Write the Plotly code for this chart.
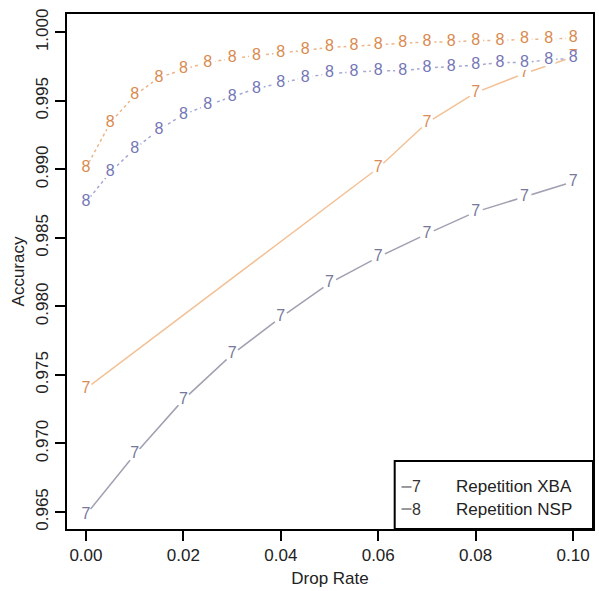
import plotly.graph_objects as go

# ---- data ----
drop_nsp = [0.000, 0.005, 0.010, 0.015, 0.020, 0.025, 0.030, 0.035, 0.040, 0.045, 0.050,
            0.055, 0.060, 0.065, 0.070, 0.075, 0.080, 0.085, 0.090, 0.095, 0.100]
nsp_orange = [0.9901, 0.9934, 0.9954, 0.9967, 0.9973, 0.9978, 0.9981, 0.9983, 0.9985, 0.9987,
              0.9989, 0.9990, 0.9991, 0.9992, 0.9993, 0.9993, 0.9994, 0.9994, 0.9995, 0.9995, 0.9996]
nsp_purple = [0.9876, 0.9898, 0.9915, 0.9929, 0.9940, 0.9947, 0.9953, 0.9959, 0.9963, 0.9967,
              0.9970, 0.9971, 0.9972, 0.9972, 0.9974, 0.9975, 0.9976, 0.9978, 0.9978, 0.9980, 0.9981]

drop_xba_orange = [0.00, 0.06, 0.07, 0.08, 0.09, 0.10]
xba_orange = [0.9740, 0.9901, 0.9934, 0.9956, 0.9970, 0.9982]

drop_xba_purple = [0.00, 0.01, 0.02, 0.03, 0.04, 0.05, 0.06, 0.07, 0.08, 0.09, 0.10]
xba_purple = [0.9648, 0.9692, 0.9732, 0.9765, 0.9792, 0.9817, 0.9836, 0.9853, 0.9869, 0.9880, 0.9891]

x_ticks = [0.00, 0.02, 0.04, 0.06, 0.08, 0.10]
x_ticklabels = ["0.00", "0.02", "0.04", "0.06", "0.08", "0.10"]
y_ticks = [0.965, 0.970, 0.975, 0.980, 0.985, 0.990, 0.995, 1.000]
y_ticklabels = ["0.965", "0.970", "0.975", "0.980", "0.985", "0.990", "0.995", "1.000"]

FONT = "Liberation Sans, Arial, sans-serif"


def series(x, y, ch, line_color, text_color, dash="solid", msize=14):
    return go.Scatter(
        x=x, y=y, mode="lines+markers+text",
        text=[ch] * len(x), textposition="middle center",
        textfont=dict(family=FONT, size=16, color=text_color),
        line=dict(color=line_color, width=1.5, dash=dash),
        marker=dict(color="white", size=msize, line=dict(width=0)),
        showlegend=False, hoverinfo="skip",
    )


fig = go.Figure()
fig.add_trace(series(drop_xba_orange, xba_orange, "7", "#F3C196", "#D98C58"))
fig.add_trace(series(drop_xba_purple, xba_purple, "7", "#A0A0B2", "#77789A", msize=15))
fig.add_trace(series(drop_nsp, nsp_purple, "8", "#A6A8D2", "#7476B6", dash="dot", msize=15))
fig.add_trace(series(drop_nsp, nsp_orange, "8", "#ECB68A", "#D98A4E", dash="dot", msize=15))

# manual R-style legend
shapes = [
    dict(type="rect", xref="paper", yref="paper", x0=0.623, x1=1.0, y0=0.0, y1=0.132,
         line=dict(color="black", width=2), fillcolor="white", layer="above"),
    dict(type="line", xref="paper", yref="paper", x0=0.636, x1=0.655, y0=0.0816, y1=0.0816,
         line=dict(color="#555555", width=1.2)),
    dict(type="line", xref="paper", yref="paper", x0=0.636, x1=0.655, y0=0.0388, y1=0.0388,
         line=dict(color="#555555", width=1.2)),
]
annotations = [
    dict(xref="paper", yref="paper", x=0.664, y=0.0816, text="7", showarrow=False,
         font=dict(family=FONT, size=16, color="#333333"), xanchor="center", yanchor="middle"),
    dict(xref="paper", yref="paper", x=0.664, y=0.0388, text="8", showarrow=False,
         font=dict(family=FONT, size=16, color="#333333"), xanchor="center", yanchor="middle"),
    dict(xref="paper", yref="paper", x=0.735, y=0.0816, text="Repetition XBA", showarrow=False,
         font=dict(family=FONT, size=17, color="#222222"), xanchor="left", yanchor="middle"),
    dict(xref="paper", yref="paper", x=0.735, y=0.0388, text="Repetition NSP", showarrow=False,
         font=dict(family=FONT, size=17, color="#222222"), xanchor="left", yanchor="middle"),
]

fig.update_layout(
    width=599, height=591,
    margin=dict(l=67, r=4, t=14, b=62),
    paper_bgcolor="white", plot_bgcolor="white",
    font=dict(family=FONT, size=17, color="#222222"),
    shapes=shapes, annotations=annotations,
    xaxis=dict(
        range=[-0.00389, 0.10409], tickvals=x_ticks, ticktext=x_ticklabels,
        showgrid=False, zeroline=False,
        showline=True, mirror=True, linecolor="black", linewidth=2,
        ticks="outside", ticklen=10, tickwidth=2, tickcolor="black",
        tickfont=dict(family=FONT, size=17, color="#222222"),
        title=dict(text="Drop Rate", font=dict(family=FONT, size=17, color="#222222"), standoff=8),
    ),
    yaxis=dict(
        range=[0.96376, 1.00134], tickvals=y_ticks, ticktext=y_ticklabels,
        showgrid=False, zeroline=False,
        showline=True, mirror=True, linecolor="black", linewidth=2,
        ticks="outside", ticklen=10, tickwidth=2, tickcolor="black",
        tickangle=-90,
        tickfont=dict(family=FONT, size=17, color="#222222"),
        title=dict(text="Accuracy", font=dict(family=FONT, size=17, color="#222222"), standoff=4),
    ),
)

fig.write_html("out.html")
